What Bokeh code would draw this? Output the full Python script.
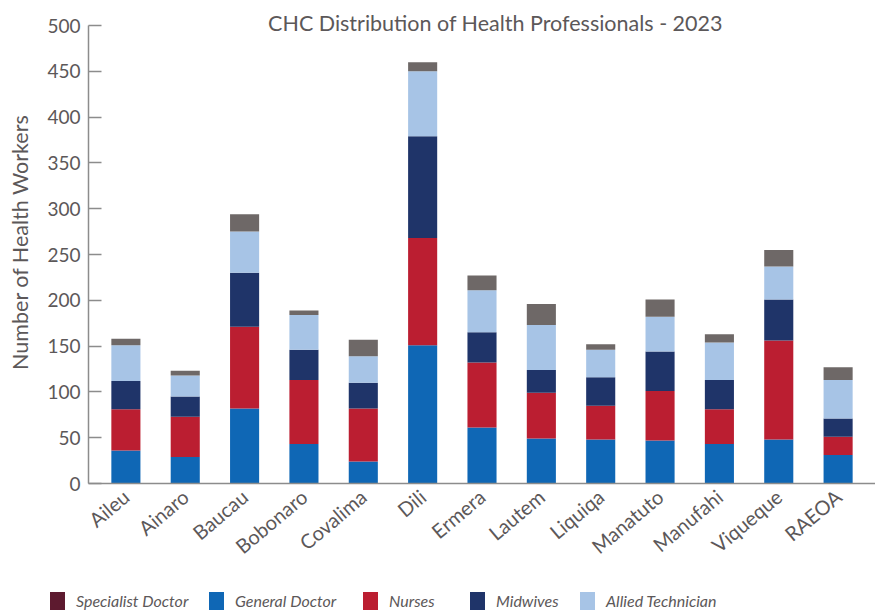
from bokeh.plotting import figure
from bokeh.layouts import column
from bokeh.models import (FactorRange, Range1d, FixedTicker, ColumnDataSource, Label, Div)
from bokeh.embed import file_html
from bokeh.resources import INLINE

districts = ["Aileu", "Ainaro", "Baucau", "Bobonaro", "Covalima", "Dili", "Ermera",
             "Lautem", "Liquiqa", "Manatuto", "Manufahi", "Viqueque", "RAEOA"]
general_doctor = [36, 29, 82, 43, 24, 151, 61, 49, 48, 47, 43, 48, 31]
nurses = [45, 44, 89, 70, 58, 117, 71, 50, 37, 54, 38, 108, 20]
midwives = [31, 22, 59, 33, 28, 111, 33, 25, 31, 43, 32, 45, 20]
allied_technician = [39, 23, 45, 38, 29, 71, 46, 49, 30, 38, 41, 36, 42]
specialist_doctor = [7, 5, 19, 5, 18, 10, 16, 23, 6, 19, 9, 18, 14]
y_ticks = [0, 50, 100, 150, 200, 250, 300, 350, 400, 450, 500]

series = ["General Doctor", "Nurses", "Midwives", "Allied Technician", "Specialist Doctor"]
bar_colors = ["#0f67b5", "#bb1e31", "#1f3469", "#a7c4e6", "#6e6867"]
legend_labels = ["Specialist Doctor", "General Doctor", "Nurses", "Midwives", "Allied Technician"]
legend_colors = ["#5d1a2f", "#0f67b5", "#bb1e31", "#1f3469", "#a7c4e6"]
legend_x = [50, 209, 363, 470, 580]   # left edge of each legend swatch (layout)

FONT = "Lato"
TXT = "#5c5859"
AXIS = "#8c8c8c"

source = ColumnDataSource(data={
    "district": districts,
    "General Doctor": general_doctor,
    "Nurses": nurses,
    "Midwives": midwives,
    "Allied Technician": allied_technician,
    "Specialist Doctor": specialist_doctor,
})

# main frame: x 88..875, y 0..483 ; value 500 sits at y=25
y_end = 500 * 483 / 458

p = figure(width=875, height=573, output_backend="svg", toolbar_location=None,
           x_range=FactorRange(*districts, range_padding=0.02),
           y_range=Range1d(0, y_end),
           min_border_left=88, min_border_right=0, min_border_top=0,
           min_border_bottom=90)
p.outline_line_color = None
p.xgrid.grid_line_color = None
p.ygrid.grid_line_color = None
p.background_fill_color = "white"
p.border_fill_color = "white"

p.vbar_stack(series, x="district", width=0.49, source=source,
             color=bar_colors, line_color=None)

# y axis
ya = p.yaxis[0]
ya.ticker = FixedTicker(ticks=y_ticks)
ya.bounds = (0, 500)
ya.axis_line_color = AXIS
ya.axis_line_width = 1.5
ya.major_tick_line_color = AXIS
ya.major_tick_line_width = 1.5
ya.major_tick_in = 13
ya.major_tick_out = 0
ya.minor_tick_line_color = None
ya.major_label_text_font = FONT
ya.major_label_text_font_size = "19px"
ya.major_label_text_color = TXT
ya.major_label_standoff = 8
ya.axis_label = "Number of Health Workers"
ya.axis_label_text_font = FONT
ya.axis_label_text_font_size = "21.5px"
ya.axis_label_text_font_style = "normal"
ya.axis_label_text_color = TXT
ya.axis_label_standoff = 11

# x axis
xa = p.xaxis[0]
xa.axis_line_color = AXIS
xa.axis_line_width = 1.5
xa.major_tick_line_color = None
xa.minor_tick_line_color = None
xa.major_label_orientation = 0.7
xa.major_label_text_font = FONT
xa.major_label_text_font_size = "20px"
xa.major_label_text_color = TXT
xa.major_label_standoff = 4

# title
title = Label(x=407, y=461, x_units="screen", y_units="screen",
              text="CHC Distribution of Health Professionals - 2023",
              text_font=FONT, text_font_size="21.5px", text_color=TXT,
              text_align="center", text_baseline="middle")
p.add_layout(title)

# legend strip (HTML)
parts = []
for lab, col, lx in zip(legend_labels, legend_colors, legend_x):
    parts.append(
        f'<span style="position:absolute;left:{lx}px;top:19px;width:15px;height:18px;'
        f'background:{col};"></span>'
        f'<span style="position:absolute;left:{lx + 26}px;top:18px;line-height:20px;'
        f'white-space:nowrap;">{lab}</span>')
legend_html = (f'<div style="position:relative;width:875px;height:38px;font-family:{FONT};'
               f'font-style:italic;font-size:16px;color:{TXT};">' + "".join(parts) + '</div>')
legend_div = Div(text=legend_html, width=875, height=38, margin=0)

layout = column(p, legend_div, spacing=0)
open("out.html", "w").write(file_html(layout, INLINE))
